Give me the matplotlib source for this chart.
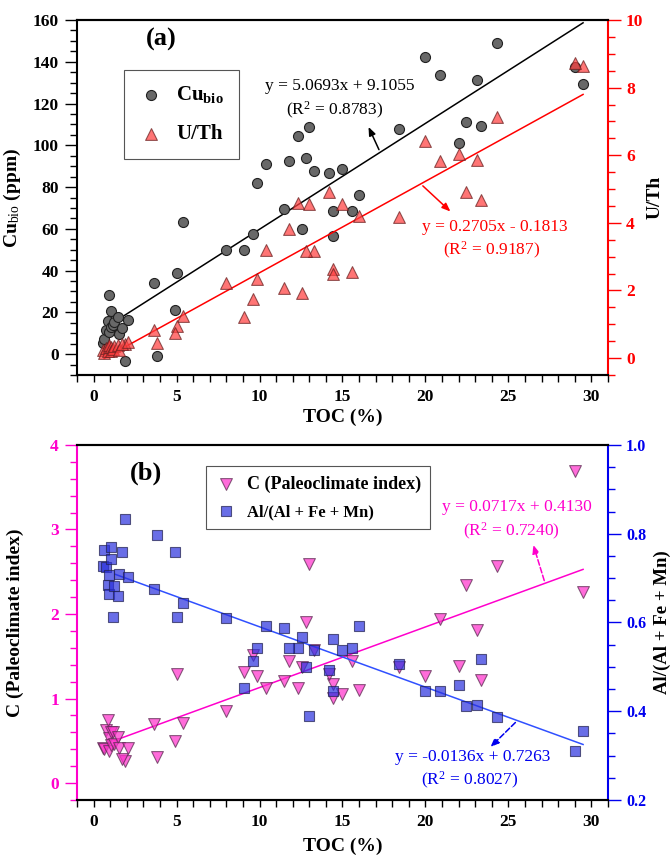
import matplotlib
matplotlib.use("Agg")
import matplotlib.pyplot as plt
from matplotlib.ticker import MultipleLocator
import numpy as np

plt.rcParams['font.family'] = ['Liberation Serif', 'DejaVu Serif']
plt.rcParams['mathtext.fontset'] = 'custom'
plt.rcParams['mathtext.rm'] = 'Liberation Serif'
plt.rcParams['mathtext.it'] = 'Liberation Serif:italic'
plt.rcParams['mathtext.bf'] = 'Liberation Serif:bold'

# ---- sample data (TOC in %, shared by all four series) ----
toc = [29.50, 29.00, 24.34, 23.34, 23.13, 22.43, 22.03, 20.85, 19.96, 18.42,
       16.00, 15.57, 14.98, 14.44, 14.40, 14.16, 13.30, 13.00, 12.80, 12.59,
       12.35, 11.75, 11.45, 10.42, 9.84, 9.62, 9.04, 8.01, 5.40, 5.00,
       4.90, 3.80, 3.66, 1.89,
       0.54, 0.64, 0.75, 0.84, 0.95, 0.95, 1.05, 1.05, 1.15, 1.25,
       1.45, 1.55, 1.71, 2.05]

cu_bio = [129.3, 137.6, 148.8, 109.3, 131.2, 111.2, 101.1, 133.6, 142.1, 108.0,
          76.0, 68.5, 88.5, 68.5, 56.8, 86.9, 87.5, 108.8, 94.1, 59.7,
          104.3, 92.3, 69.3, 90.9, 82.1, 57.3, 50.1, 49.9, 63.5, 38.7,
          21.3, -1.1, 33.9, -3.5,
          5.5, 7.2, 11.5, 16.0, 28.5, 10.4, 20.5, 13.0, 14.0, 15.2,
          18.0, 9.6, 12.5, 16.5]

u_th = [8.64, 8.74, 7.12, 4.69, 5.87, 4.92, 6.05, 5.83, 6.43, 4.18,
        4.20, 2.55, 4.55, 2.65, 2.50, 4.90, 3.16, 4.55, 3.17, 1.93,
        4.60, 3.83, 2.08, 3.19, 2.33, 1.76, 1.23, 2.23, 1.26, 0.94,
        0.75, 0.44, 0.84, 0.42,
        0.23, 0.15, 0.30, 0.22, 0.33, 0.40, 0.33, 0.20, 0.28, 0.35,
        0.38, 0.25, 0.42, 0.47]

c_index = [2.26, 3.69, 2.57, 1.22, 1.81, 2.34, 1.38, 1.94, 1.27, 1.37,
           1.10, 1.45, 1.05, 1.17, 1.01, 1.29, 1.58, 2.59, 1.90, 1.37,
           1.12, 1.45, 1.21, 1.12, 1.27, 1.52, 1.31, 0.85, 0.71, 1.29,
           0.50, 0.31, 0.70, 0.26,
           0.42, 0.40, 0.63, 0.745, 0.53, 0.38, 0.45, 0.60, 0.61, 0.46,
           0.55, 0.42, 0.28, 0.42]

al_ratio = [0.356, 0.310, 0.387, 0.517, 0.414, 0.411, 0.460, 0.445, 0.445, 0.507,
            0.591, 0.543, 0.539, 0.562, 0.445, 0.494, 0.537, 0.389, 0.499, 0.567,
            0.542, 0.542, 0.588, 0.591, 0.542, 0.513, 0.452, 0.611, 0.644, 0.612,
            0.758, 0.796, 0.676, 0.834,
            0.728, 0.764, 0.725, 0.685, 0.706, 0.664, 0.770, 0.744, 0.612, 0.682,
            0.659, 0.710, 0.758, 0.703]

# linear fits: (slope, intercept, x_start, x_end)
fit_cu = (5.0693, 9.1055, 0.64, 29.5)
fit_uth = (0.2705, -0.1813, 0.64, 29.5)
fit_c = (0.0717, 0.4130, 1.3, 29.5)
fit_al = (-0.0136, 0.7263, 1.3, 29.5)

MAGENTA = '#ff00cc'
BLUE = '#0000ee'


def fit_line(ax, fit, color):
    k, b, x0, x1 = fit
    xs = np.array([x0, x1])
    ax.plot(xs, k * xs + b, color=color, lw=1.1, zorder=2)


def style_axes(ax, ax2, left_color, right_color):
    ax.set_xlim(-1, 31)
    ax.xaxis.set_major_locator(MultipleLocator(5))
    ax.xaxis.set_minor_locator(MultipleLocator(1))
    ax.tick_params(axis='x', which='both', direction='out', length=5, width=1,
                   labelsize=12.5, pad=5, top=False)
    ax.tick_params(axis='y', which='major', direction='out', length=9, width=1,
                   labelsize=12.5, pad=4, colors=left_color)
    ax.tick_params(axis='y', which='minor', direction='out', length=5, width=1,
                   colors=left_color)
    ax2.tick_params(axis='y', which='major', direction='out', length=9, width=1,
                    labelsize=12.5, pad=4, colors=right_color)
    ax2.tick_params(axis='y', which='minor', direction='out', length=5, width=1,
                    colors=right_color)
    for lab in ax.get_xticklabels() + ax.get_yticklabels() + ax2.get_yticklabels():
        lab.set_fontweight('bold')
    for sp in ax.spines.values():
        sp.set_linewidth(1.5)
    for sp in ax2.spines.values():
        sp.set_linewidth(1.5)
    ax.spines['left'].set_color(left_color)
    ax2.spines['left'].set_visible(False)
    ax2.spines['right'].set_color(right_color)
    ax.spines['right'].set_visible(False)
    ax.set_xlabel('TOC (%)', fontsize=14, fontweight='bold')


fig = plt.figure(figsize=(6.7, 8.58), dpi=100)

# ---- (a) Cu_bio and U/Th ----
ax_a = fig.add_axes([0.1149, 0.5629, 0.7925, 0.4138])
ax_a2 = ax_a.twinx()

ax_a.scatter(toc, cu_bio, s=52, marker='o', facecolor='#686868',
             edgecolor='#202020', linewidth=0.8, zorder=3, label=r'Cu$_{\mathbf{bio}}$')
ax_a2.scatter(toc, u_th, s=72, marker='^', facecolor='#ff4040', alpha=0.72,
              edgecolor='#6a2020', linewidth=0.8, zorder=3, label='U/Th')
fit_line(ax_a, fit_cu, 'black')
fit_line(ax_a2, fit_uth, 'red')

ax_a.set_ylim(-10, 160)
ax_a.yaxis.set_major_locator(MultipleLocator(20))
ax_a.yaxis.set_minor_locator(MultipleLocator(5))
ax_a2.set_ylim(-0.5, 10)
ax_a2.yaxis.set_major_locator(MultipleLocator(2))
ax_a2.yaxis.set_minor_locator(MultipleLocator(0.5))
style_axes(ax_a, ax_a2, 'black', 'red')
ax_a.set_ylabel(r'Cu$_{\mathrm{bio}}$ (ppm)', fontsize=14, fontweight='bold')
ax_a2.set_ylabel('U/Th', fontsize=14, fontweight='bold')
ax_a.yaxis.set_label_coords(-0.102, 0.5)
ax_a2.yaxis.set_label_coords(1.072, 0.5)
ax_a.xaxis.set_label_coords(0.5, -0.095)

ax_a.text(0.1595, 0.944, '(a)', transform=ax_a.transAxes, fontsize=19,
          fontweight='bold', ha='center', va='center')

ax_a.text(14.86, 128.4, 'y = 5.0693x + 9.1055', fontsize=12.5, ha='center', va='center')
ax_a.text(14.5, 116.8, r'(R$^2$ = 0.8783)', fontsize=12.5, ha='center', va='center')
ax_a.annotate('', xy=(16.5, 110), xytext=(17.27, 96.7),
              arrowprops=dict(arrowstyle='-|>,head_length=0.5,head_width=0.2',
                              color='black', lw=1.1))

ax_a2.text(24.2, 3.88, 'y = 0.2705x - 0.1813', fontsize=12.5, ha='center',
           va='center', color='red')
ax_a2.text(24.0, 3.17, r'(R$^2$ = 0.9187)', fontsize=12.5, ha='center',
           va='center', color='red')
ax_a2.annotate('', xy=(21.63, 4.28), xytext=(19.72, 5.15),
               arrowprops=dict(arrowstyle='-|>,head_length=0.5,head_width=0.2',
                               color='red', lw=1.1))

h1, l1 = ax_a.get_legend_handles_labels()
h2, l2 = ax_a2.get_legend_handles_labels()
leg = ax_a2.legend(h1 + h2, l1 + l2, loc='upper left', bbox_to_anchor=(0.0697, 0.889),
                   fancybox=False, edgecolor='#555555', framealpha=1,
                   prop={'weight': 'bold', 'size': 15}, handletextpad=0.6,
                   borderpad=0.7, labelspacing=0.9, handlelength=1.2)
leg.get_frame().set_linewidth(0.8)

# ---- (b) C index and Al/(Al + Fe + Mn) ----
ax_b = fig.add_axes([0.1149, 0.0676, 0.7925, 0.4138])
ax_b2 = ax_b.twinx()

ax_b.scatter(toc, c_index, s=72, marker='v', facecolor='#ff33cc', alpha=0.72,
             edgecolor='#5a2a50', linewidth=0.8, zorder=3, label='C (Paleoclimate index)')
ax_b2.scatter(toc, al_ratio, s=46, marker='s', facecolor='#2a30dd', alpha=0.7,
              edgecolor='#202050', linewidth=0.8, zorder=3, label='Al/(Al + Fe + Mn)')
fit_line(ax_b, fit_c, MAGENTA)
fit_line(ax_b2, fit_al, '#3050ff')

ax_b.set_ylim(-0.2, 4)
ax_b.yaxis.set_major_locator(MultipleLocator(1))
ax_b.yaxis.set_minor_locator(MultipleLocator(0.2))
ax_b2.set_ylim(0.2, 1.0)
ax_b2.yaxis.set_major_locator(MultipleLocator(0.2))
ax_b2.yaxis.set_minor_locator(MultipleLocator(0.05))
style_axes(ax_b, ax_b2, MAGENTA, BLUE)
ax_b2.tick_params(axis='y', labelsize=11.5)
ax_b.set_ylabel('C (Paleoclimate index)', fontsize=14, fontweight='bold')
ax_b2.set_ylabel('Al/(Al + Fe + Mn)', fontsize=13.5, fontweight='bold')
ax_b.yaxis.set_label_coords(-0.1, 0.5)
ax_b2.yaxis.set_label_coords(1.086, 0.5)
ax_b.xaxis.set_label_coords(0.5, -0.105)

ax_b.text(0.13, 0.92, '(b)', transform=ax_b.transAxes, fontsize=19,
          fontweight='bold', ha='center', va='center')

ax_b.text(25.51, 3.27, 'y = 0.0717x + 0.4130', fontsize=12.5, ha='center',
          va='center', color=MAGENTA)
ax_b.text(25.16, 2.98, r'(R$^2$ = 0.7240)', fontsize=12.5, ha='center',
          va='center', color=MAGENTA)
ax_b.annotate('', xy=(26.45, 2.85), xytext=(27.21, 2.364),
              arrowprops=dict(arrowstyle='-|>,head_length=0.5,head_width=0.2',
                              color=MAGENTA, lw=1.1, linestyle='--'))

ax_b2.text(22.86, 0.298, 'y = -0.0136x + 0.7263', fontsize=12.5, ha='center',
           va='center', color=BLUE)
ax_b2.text(22.66, 0.2436, r'(R$^2$ = 0.8027)', fontsize=12.5, ha='center',
           va='center', color=BLUE)
ax_b2.annotate('', xy=(23.8, 0.315), xytext=(25.54, 0.379),
               arrowprops=dict(arrowstyle='-|>,head_length=0.5,head_width=0.2',
                               color=BLUE, lw=1.1, linestyle='--'))

h1, l1 = ax_b.get_legend_handles_labels()
h2, l2 = ax_b2.get_legend_handles_labels()
leg = ax_b2.legend(h1 + h2, l1 + l2, loc='upper left', bbox_to_anchor=(0.2254, 0.965),
                   fancybox=False, edgecolor='#555555', framealpha=1,
                   prop={'weight': 'bold', 'size': 13}, handletextpad=0.6,
                   borderpad=0.5, labelspacing=0.6, handlelength=1.2)
leg.get_frame().set_linewidth(0.8)
leg.get_texts()[1].set_fontsize(12)

fig.savefig('out.png', dpi=100)
